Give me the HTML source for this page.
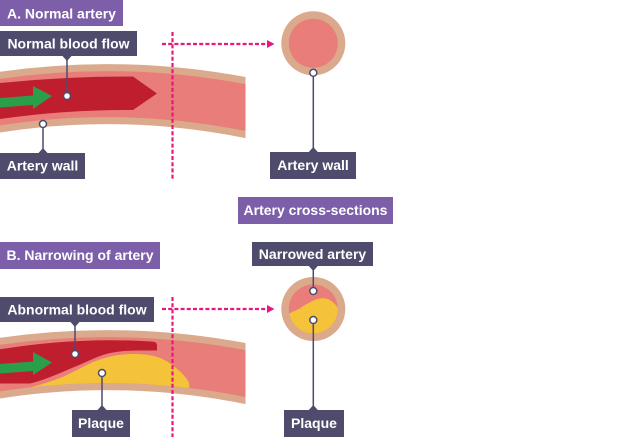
<!DOCTYPE html>
<html>
<head>
<meta charset="utf-8">
<style>
  html, body { margin:0; padding:0; background:#ffffff; }
  svg { display:block; }
  text { font-family: "Liberation Sans", Arial, sans-serif; font-weight: bold; font-size: 14px; fill: #ffffff; }
</style>
</head>
<body>
<svg width="624" height="437" viewBox="0 0 624 437" xmlns="http://www.w3.org/2000/svg">
  <defs>
    <clipPath id="cl"><rect x="0" y="0" width="245.5" height="437"/></clipPath>
    <mask id="mB" maskUnits="userSpaceOnUse" x="0" y="0" width="624" height="437">
      <rect x="0" y="0" width="624" height="437" fill="#000"/>
      <path d="M-20,105.4 Q120,80.5 260,110.5" transform="translate(0,266)" stroke="#fff" stroke-width="46" fill="none"/>
    </mask>
    <clipPath id="cB"><circle cx="313.3" cy="309" r="24.5"/></clipPath>
  </defs>

  <!-- ===== Section A ===== -->
  <g clip-path="url(#cl)">
    <path d="M-20,105.4 Q120,80.5 260,110.5" stroke="#dba98c" stroke-width="60" fill="none"/>
    <path d="M-20,105.4 Q120,80.5 260,110.5" stroke="#e97d79" stroke-width="46" fill="none"/>
  </g>
  <!-- red flow -->
  <path d="M0,83 Q66,76.25 133,76.5 L157,93.5 L133,110 Q66,109.5 0,119 Z" fill="#be1e2e"/>
  <!-- green arrow -->
  <path d="M0,98 L33,95.5 L33,86 L52,96 L33,109 L33,105 L0,107.5 Z" fill="#2b9e4a"/>

  <!-- dashed lines A -->
  <line x1="172.5" y1="32" x2="172.5" y2="179" stroke="#e8177e" stroke-width="2.2" stroke-dasharray="4,2.2"/>
  <line x1="162" y1="44" x2="268" y2="44" stroke="#e8177e" stroke-width="2.2" stroke-dasharray="4,2.2"/>
  <polygon points="267,40 274.5,44 267,48" fill="#e8177e"/>

  <!-- cross-section A -->
  <circle cx="313.3" cy="43.3" r="32" fill="#dba98c"/>
  <circle cx="313.3" cy="43.3" r="24.5" fill="#e97d79"/>

  <!-- labels A -->
  <rect x="0" y="0" width="123" height="26" fill="#7d5fa9"/>
  <text x="61.5" y="18.5" text-anchor="middle">A. Normal artery</text>

  <rect x="0" y="31" width="137" height="25" fill="#4e4b6c"/>
  <text x="68.5" y="48.5" text-anchor="middle">Normal blood flow</text>
  <polygon points="62.5,56 71.5,56 67,61" fill="#4e4b6c"/>
  <line x1="67" y1="58" x2="67" y2="93" stroke="#4e4b6c" stroke-width="1.5"/>
  <circle cx="67" cy="96" r="3.5" fill="#fff" stroke="#4e4b6c" stroke-width="1.5"/>

  <line x1="43" y1="127" x2="43" y2="151" stroke="#4e4b6c" stroke-width="1.5"/>
  <circle cx="43" cy="124" r="3.5" fill="#fff" stroke="#4e4b6c" stroke-width="1.5"/>
  <polygon points="38.5,153 47.5,153 43,148" fill="#4e4b6c"/>
  <rect x="0" y="153" width="85" height="26" fill="#4e4b6c"/>
  <text x="42.5" y="170.5" text-anchor="middle">Artery wall</text>

  <line x1="313.3" y1="76" x2="313.3" y2="150" stroke="#4e4b6c" stroke-width="1.5"/>
  <circle cx="313.3" cy="72.8" r="3.5" fill="#fff" stroke="#4e4b6c" stroke-width="1.5"/>
  <polygon points="308.8,152 317.8,152 313.3,147" fill="#4e4b6c"/>
  <rect x="270" y="152" width="86" height="27" fill="#4e4b6c"/>
  <text x="313" y="170" text-anchor="middle">Artery wall</text>

  <rect x="238" y="197" width="155" height="27" fill="#7d5fa9"/>
  <text x="315.5" y="215" text-anchor="middle">Artery cross-sections</text>

  <!-- ===== Section B ===== -->
  <g clip-path="url(#cl)">
    <g transform="translate(0,266)">
      <path d="M-20,105.4 Q120,80.5 260,110.5" stroke="#dba98c" stroke-width="60" fill="none"/>
      <path d="M-20,105.4 Q120,80.5 260,110.5" stroke="#e97d79" stroke-width="46" fill="none"/>
    </g>
  </g>
  <!-- red flow B -->
  <path d="M0,349.3 Q78,336.7 153,341.6 Q157,341.8 157,345.5 L157,350.5 L145,350.5 C130,350.3 120,351 108,353.5 C95,357 85,363 73,367.5 C60,373 45,380 30,383.5 L0,383.5 Z" fill="#be1e2e"/>
  <!-- plaque B -->
  <path mask="url(#mB)" d="M10,394 L27,388.3 C40,385 52,381 60,378 C70,374 82,367 92,362.5 C105,357 118,354 133,354 C150,354 160,357 168,362 C178,369 186,376 189,383 C190,386 189,389 186,392 L186,400 L10,400 Z" fill="#f5c33a"/>
  <!-- green arrow B -->
  <path d="M0,364 L33,361.5 L33,352 L52,362.5 L33,375 L33,371 L0,373.5 Z" fill="#2b9e4a"/>

  <!-- dashed lines B -->
  <line x1="172.5" y1="297" x2="172.5" y2="437" stroke="#e8177e" stroke-width="2.2" stroke-dasharray="4,2.2"/>
  <line x1="162" y1="309" x2="268" y2="309" stroke="#e8177e" stroke-width="2.2" stroke-dasharray="4,2.2"/>
  <polygon points="267,305 274.5,309 267,313" fill="#e8177e"/>

  <!-- cross-section B -->
  <circle cx="313.3" cy="309" r="32" fill="#dba98c"/>
  <circle cx="313.3" cy="309" r="24.5" fill="#e97d79"/>
  <path clip-path="url(#cB)" d="M284,317 C290,313 294,311 297,310 C301,308 304,305 307,304 C311,302 316,298.5 321.7,298.3 C327,298 331,300 334,303.3 C337,306 339,309 340,313 L342,345 L284,345 Z" fill="#f5c33a"/>

  <!-- labels B -->
  <rect x="0" y="242" width="160" height="27" fill="#7d5fa9"/>
  <text x="80" y="260" text-anchor="middle">B. Narrowing of artery</text>

  <rect x="0" y="297" width="154" height="25" fill="#4e4b6c"/>
  <text x="77" y="314.5" text-anchor="middle">Abnormal blood flow</text>
  <polygon points="70.5,322 79.5,322 75,327" fill="#4e4b6c"/>
  <line x1="75" y1="324" x2="75" y2="351" stroke="#4e4b6c" stroke-width="1.5"/>
  <circle cx="75" cy="354" r="3.5" fill="#fff" stroke="#4e4b6c" stroke-width="1.5"/>

  <line x1="102" y1="376" x2="102" y2="408" stroke="#4e4b6c" stroke-width="1.5"/>
  <circle cx="102" cy="373" r="3.5" fill="#fff" stroke="#4e4b6c" stroke-width="1.5"/>
  <polygon points="97.5,410 106.5,410 102,405" fill="#4e4b6c"/>
  <rect x="72" y="410" width="58" height="27" fill="#4e4b6c"/>
  <text x="101" y="428" text-anchor="middle">Plaque</text>

  <rect x="252" y="242" width="121" height="24" fill="#4e4b6c"/>
  <text x="312.5" y="259" text-anchor="middle">Narrowed artery</text>
  <polygon points="308.8,266 317.8,266 313.3,271" fill="#4e4b6c"/>
  <line x1="313.3" y1="268" x2="313.3" y2="288" stroke="#4e4b6c" stroke-width="1.5"/>
  <circle cx="313.3" cy="291" r="3.5" fill="#fff" stroke="#4e4b6c" stroke-width="1.5"/>

  <line x1="313.3" y1="323" x2="313.3" y2="408" stroke="#4e4b6c" stroke-width="1.5"/>
  <circle cx="313.3" cy="320" r="3.5" fill="#fff" stroke="#4e4b6c" stroke-width="1.5"/>
  <polygon points="308.8,410 317.8,410 313.3,405" fill="#4e4b6c"/>
  <rect x="284" y="410" width="60" height="27" fill="#4e4b6c"/>
  <text x="314" y="428" text-anchor="middle">Plaque</text>
</svg>
</body>
</html>
